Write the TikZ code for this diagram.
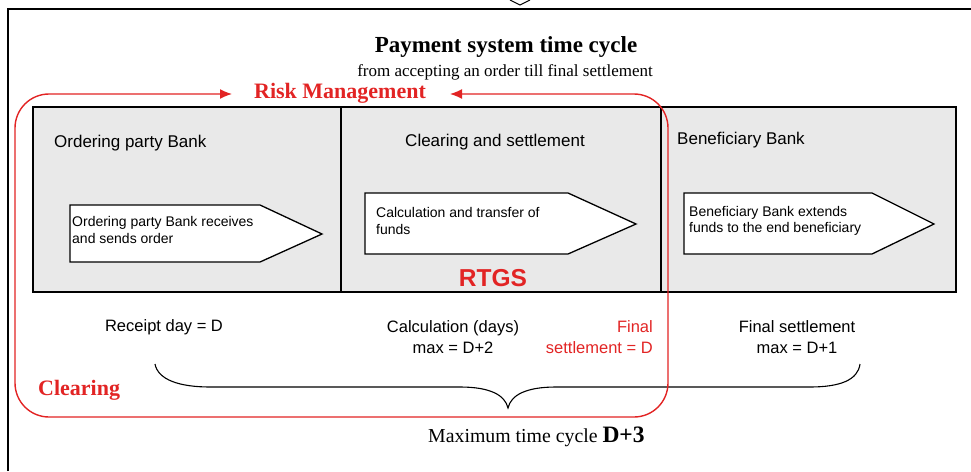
\documentclass[tikz,border=0pt]{standalone}
\usepackage{fontspec}
\setmainfont{Liberation Serif}
\setsansfont{Liberation Sans}
\usetikzlibrary{positioning,arrows.meta}
\definecolor{riskred}{RGB}{226,36,36}
\definecolor{panelgrey}{RGB}{233,233,233}
\begin{document}
\begin{tikzpicture}[x=1pt,y=-1pt,
	frame/.style={line width=1.6pt},
	panel/.style={draw,line width=1.3pt,fill=panelgrey},
	chev/.style={draw,line width=1.3pt,fill=white},
	redline/.style={draw=riskred,line width=1.4pt},
	head/.style={font=\sffamily\fontsize{17}{20}\selectfont,inner sep=0pt},
	inside/.style={font=\sffamily\fontsize{14}{16.5}\selectfont,align=left,anchor=west,inner sep=0pt},
	day/.style={font=\sffamily\fontsize{16.5}{21}\selectfont,align=center,inner sep=0pt},
	redbold/.style={text=riskred,font=\bfseries\fontsize{22}{26}\selectfont,inner sep=0pt}]
	\useasboundingbox (0,0) rectangle (971,471);
	% frame
	\draw[frame] (8,471) -- (8,9) -- (971,9);
	\draw[line width=1pt] (510,0) -- (520,5) -- (530,0);
	% titles
	\node (title) at (506,47) {\bfseries\fontsize{23}{27}\selectfont Payment system time cycle};
	\node (subtitle) at (505,72) {\fontsize{17}{20}\selectfont from accepting an order till final settlement};
	
	% panels
	\draw[panel] (33,107) rectangle (956,292);
	\draw[line width=1.3pt] (341,107) -- (341,292);
	\draw[line width=1.3pt] (661,107) -- (661,292);
	\node[head,anchor=west] (ordering) at (54,143) {Ordering party Bank};
	\node[head] (clearset) at (495,142) {Clearing and settlement};
	\node[head,anchor=west] (benef) at (677,140) {Beneficiary Bank};
	
	\draw[chev] (70,205) -- (260,205) -- (322,234) -- (260,262) -- (70,262) -- cycle;
	\draw[chev] (365,193) -- (568,193) -- (636,224) -- (568,254) -- (365,254) -- cycle;
	\draw[chev] (684,193) -- (872,193) -- (934,224) -- (872,254) -- (684,254) -- cycle;
	\node[inside] (sends) at (72,230) {Ordering party Bank receives\\and sends order};
	\node[inside] (calcfunds) at (376,221) {Calculation and transfer of\\funds};
	\node[inside] (extends) at (689,221) {Beneficiary Bank extends\\funds to the end beneficiary};
	\node[text=riskred,font=\sffamily\bfseries\fontsize{24.5}{28}\selectfont] (rtgs) at (493,278) {RTGS};
	
	% days
	\node[day] (receipt) at (164,327) {Receipt day = D};
	\node[day] (calcdays) at (453,337) {Calculation (days)\\max = D+2};
	\node[day,align=right,anchor=east,text=riskred] (finalD) at (653,337) {Final\\settlement = D};
	\node[day] (finalmax) at (797,337) {Final settlement\\max = D+1};
	
	\draw[line width=1.1pt] (155,364) .. controls (158,380) and (180,387) .. (210,387) -- (460,387)
		.. controls (490,387) and (505,395) .. (508,408) .. controls (511,395) and (526,387) .. (556,387)
		-- (810,387) .. controls (840,387) and (858,380) .. (860,364);
	\node[anchor=west,inner sep=0pt] (maxcycle) at (428,437) {\fontsize{19.8}{22}\selectfont Maximum time cycle \textbf{\fontsize{23.5}{26}\selectfont D+3}};
	
	% red clearing box
	\draw[redline,{Latex[length=12pt,width=10pt]}-{Latex[length=12pt,width=10pt]},rounded corners=34pt]
		(450,94) -- (668,94) -- (668,417) -- (15,417) -- (15,94) -- (232,94);
	\node[redbold] (risk) at (340,93) {Risk Management};
	\node[redbold,anchor=west] (clearing) at (38,390) {Clearing};
\end{tikzpicture}
\end{document}
